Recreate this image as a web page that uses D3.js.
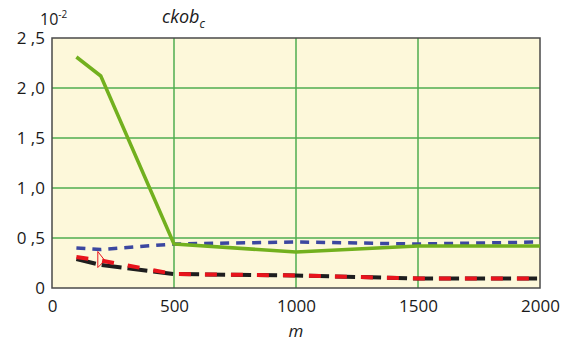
<!DOCTYPE html>
<html>
<head>
<meta charset="utf-8">
<script src="https://cdn.jsdelivr.net/npm/d3@7"></script>
<style>
  body { margin: 0; background: #fff; }
  text { font-family: "Open Sans", "DejaVu Sans", sans-serif; fill: #1a1a1a; }
</style>
</head>
<body>
<div id="chart"></div>
<script>
const xTicks = [0, 500, 1000, 1500, 2000];
const yTicks = [0, 0.5, 1.0, 1.5, 2.0, 2.5];
const yTickLabels = ["0", "0\u00a0,5", "1\u00a0,0", "1\u00a0,5", "2\u00a0,0", "2\u00a0,5"];

const mValues = [100, 200, 500, 1000, 1500, 2000];
const greenSeries = [2.31, 2.12, 0.44, 0.36, 0.42, 0.42];
const blueSeries = [0.40, 0.385, 0.44, 0.46, 0.44, 0.46];
const blackSeries = [0.29, 0.23, 0.14, 0.125, 0.095, 0.095];
const redSeries = [0.31, 0.275, 0.14, 0.125, 0.095, 0.095];

const W = 573, H = 344;
const margin = { top: 38, right: 33, bottom: 56, left: 52 };

const svg = d3.select("#chart").append("svg")
  .attr("width", W).attr("height", H);

const x = d3.scaleLinear().domain([0, 2000]).range([margin.left, W - margin.right]);
const y = d3.scaleLinear().domain([0, 2.5]).range([H - margin.bottom, margin.top]);

// plot background
svg.append("rect")
  .attr("x", x(0)).attr("y", y(2.5))
  .attr("width", x(2000) - x(0)).attr("height", y(0) - y(2.5))
  .attr("fill", "#fdf8da");

// grid
svg.append("g").selectAll("line.hg")
  .data(yTicks.filter(d => d > 0 && d < 2.5)).join("line")
  .attr("x1", x(0)).attr("x2", x(2000))
  .attr("y1", d => y(d)).attr("y2", d => y(d))
  .attr("stroke", "#4fae4f").attr("stroke-width", 1.5);

svg.append("g").selectAll("line.vg")
  .data(xTicks.filter(d => d > 0 && d < 2000)).join("line")
  .attr("x1", d => x(d)).attr("x2", d => x(d))
  .attr("y1", y(0)).attr("y2", y(2.5))
  .attr("stroke", "#4fae4f").attr("stroke-width", 1.5);

// frame
svg.append("rect")
  .attr("x", x(0)).attr("y", y(2.5))
  .attr("width", x(2000) - x(0)).attr("height", y(0) - y(2.5))
  .attr("fill", "none").attr("stroke", "#4a4a4a").attr("stroke-width", 1.5);

// axes
const xAxis = svg.append("g")
  .attr("transform", `translate(0,${y(0)})`)
  .call(d3.axisBottom(x).tickValues(xTicks).tickSize(0).tickPadding(12)
    .tickFormat(d3.format("d")));
xAxis.select(".domain").remove();
xAxis.selectAll("text").style("font-size", "17px").attr("fill", "#1a1a1a");

const yAxis = svg.append("g")
  .attr("transform", `translate(${x(0)},0)`)
  .call(d3.axisLeft(y).tickValues(yTicks).tickSize(0).tickPadding(7)
    .tickFormat((d, i) => yTickLabels[i]));
yAxis.select(".domain").remove();
yAxis.selectAll("text").style("font-size", "17px").attr("fill", "#1a1a1a");

// series
const line = d3.line().x((d, i) => x(mValues[i])).y(d => y(d));

svg.append("path").datum(blueSeries)
  .attr("fill", "none").attr("stroke", "#3c47a0").attr("stroke-width", 3.5)
  .attr("stroke-dasharray", "9,7").attr("d", line);

svg.append("path").datum(blackSeries)
  .attr("fill", "none").attr("stroke", "#1e1e1e").attr("stroke-width", 4)
  .attr("stroke-dasharray", "20,6").attr("d", line);

svg.append("path").datum(redSeries)
  .attr("fill", "none").attr("stroke", "#e8141c").attr("stroke-width", 4)
  .attr("stroke-dasharray", "12,14").attr("d", line);

svg.append("path").datum(greenSeries)
  .attr("fill", "none").attr("stroke", "#72b01e").attr("stroke-width", 3.5)
  .attr("stroke-linejoin", "round").attr("d", line);

// red marker at m=200
const mx = x(mValues[1]), my = y(redSeries[1]);
svg.append("path")
  .attr("d", `M${mx - 3},${my - 9}L${mx + 4},${my}L${mx - 3},${my + 7}Z`)
  .attr("fill", "none").attr("stroke", "#e8141c").attr("stroke-width", 1);

// labels
const exp = svg.append("text").attr("x", 40).attr("y", 25).style("font-size", "16px");
exp.append("tspan").text("10");
exp.append("tspan").attr("dy", -7).style("font-size", "10px").text("-2");

const title = svg.append("text").attr("x", 162).attr("y", 23)
  .style("font-size", "18px").style("font-style", "italic");
title.append("tspan").text("ckob");
title.append("tspan").attr("dy", 5).style("font-size", "12px").text("c");

svg.append("text").attr("x", (x(0) + x(2000)) / 2).attr("y", 337)
  .attr("text-anchor", "middle").style("font-size", "17px").style("font-style", "italic")
  .text("m");
</script>
</body>
</html>
